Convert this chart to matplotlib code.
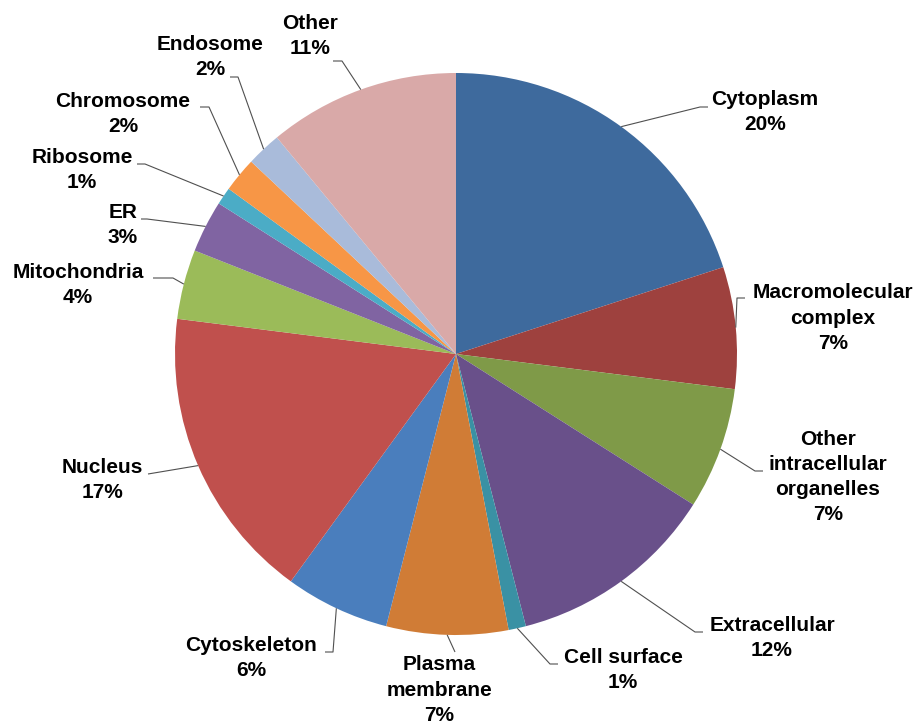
import numpy as np
import matplotlib.pyplot as plt

plt.rcParams['font.family'] = ['Liberation Sans', 'DejaVu Sans']

labels = ['Cytoplasm', 'Macromolecular\ncomplex', 'Other\nintracellular\norganelles',
          'Extracellular', 'Cell surface', 'Plasma\nmembrane', 'Cytoskeleton',
          'Nucleus', 'Mitochondria', 'ER', 'Ribosome', 'Chromosome', 'Endosome', 'Other']
percents = [20, 7, 7, 12, 1, 7, 6, 17, 4, 3, 1, 2, 2, 11]

colors = ['#3E6A9D', '#9E413E', '#7F9A48', '#69508A', '#3A91A4', '#D07C36',
          '#4A7EBD', '#C0504D', '#9BBB59', '#8064A2', '#4BACC6', '#F79646',
          '#A9BBDA', '#D9A9A8']

W, H = 921, 724
cx, cy, R = 456, 354, 281

# label centre, elbow of leader line, end of the short horizontal piece (pixels from top-left)
text_pos = [(765, 112), (833, 318), (828, 477), (772, 638), (623, 670), (439, 690),
            (251, 658), (102, 480), (78, 285), (123, 225), (82, 170), (123, 114),
            (210, 57), (310, 36)]
elbows = [(700, 107), (737, 298), (755, 471), (695, 632), (550, 664), (455, 652),
          (333, 652), (148, 474), (173, 278), (147, 219), (145, 164), (209, 107),
          (238, 77), (342, 61)]
hends = [708, 745, 763, 703, 558, 455, 325, 148, 153, 141, 137, 200, 230, 333]

fig = plt.figure(figsize=(W / 100, H / 100), dpi=100)
ax = fig.add_axes([0, 0, 1, 1])

wedges, _ = ax.pie(percents, colors=colors, startangle=90, counterclock=False,
                   center=(cx, H - cy), radius=R, frame=True,
                   wedgeprops=dict(linewidth=0))
ax.set_xlim(0, W)
ax.set_ylim(0, H)
ax.axis('off')

for w, lab, p, (tx, ty), (ex, ey), hx in zip(wedges, labels, percents, text_pos, elbows, hends):
    mid = np.deg2rad((w.theta1 + w.theta2) / 2)
    ax_x = cx + R * np.cos(mid)
    ax_y = H - cy + R * np.sin(mid)
    ax.plot([ax_x, ex, hx], [ax_y, H - ey, H - ey], color='#505050', lw=0.8,
            solid_capstyle='butt')
    ax.text(tx, H - ty, f'{lab}\n{p}%', ha='center', va='center', fontsize=15,
            fontweight='bold', linespacing=1.42, color='black')

fig.savefig('out.png', dpi=100)
